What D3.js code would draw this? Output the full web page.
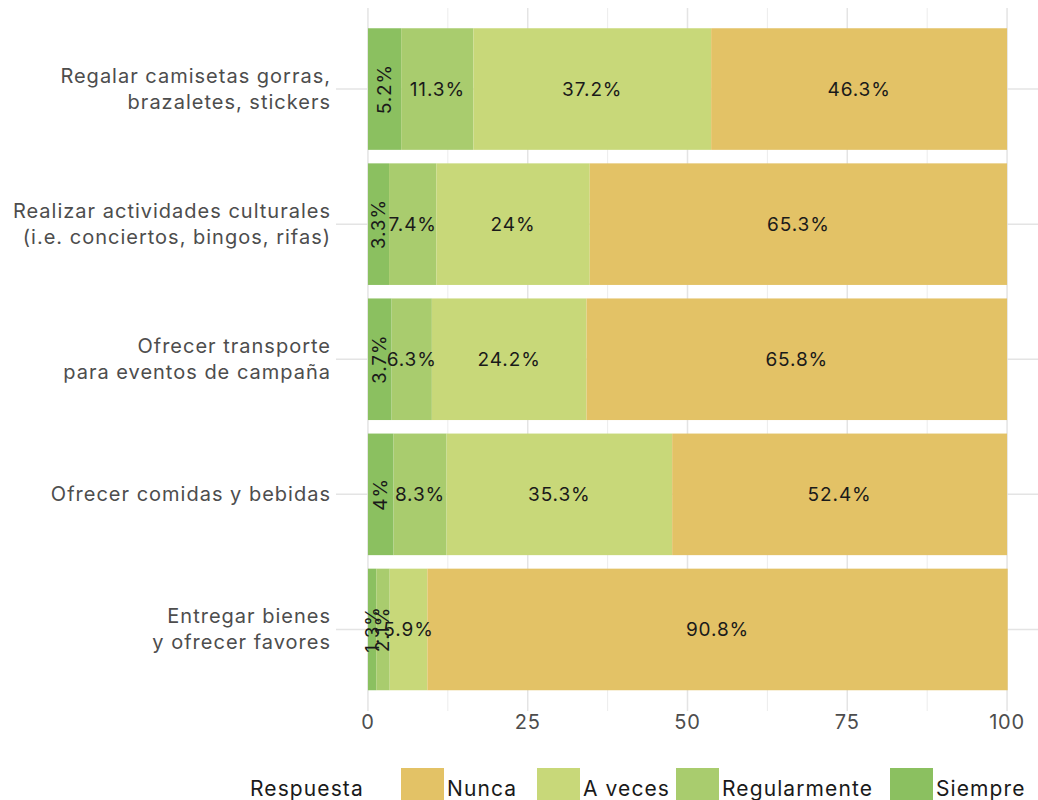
<!DOCTYPE html>
<html>
<head>
<meta charset="utf-8">
<script src="https://cdn.jsdelivr.net/npm/d3@7"></script>
<style>
  body { margin: 0; background: #fff; }
  text { font-family: "Inter", "Noto Sans", sans-serif; }
</style>
</head>
<body>
<div id="chart"></div>
<script>
// categories (top to bottom), label lines
var categories = [
  ["Regalar camisetas gorras,", "brazaletes, stickers"],
  ["Realizar actividades culturales", "(i.e. conciertos, bingos, rifas)"],
  ["Ofrecer transporte", "para eventos de campaña"],
  ["Ofrecer comidas y bebidas"],
  ["Entregar bienes", "y ofrecer favores"]
];
var siempre      = [5.2, 3.3, 3.7, 4, 1.3];
var regularmente = [11.3, 7.4, 6.3, 8.3, 2.1];
var aVeces       = [37.2, 24, 24.2, 35.3, 5.9];
var nunca        = [46.3, 65.3, 65.8, 52.4, 90.8];

var seriesNames = ["Siempre", "Regularmente", "A veces", "Nunca"];
var legendNames = ["Nunca", "A veces", "Regularmente", "Siempre"];
var xTicks = [0, 25, 50, 75, 100];

var colors = {
  "Nunca": "#e3c266",
  "A veces": "#c8d879",
  "Regularmente": "#a9cc6e",
  "Siempre": "#8bc060"
};

var width = 1038, height = 800;
var svg = d3.select("#chart").append("svg")
    .attr("width", width)
    .attr("height", height);

var x = d3.scaleLinear().domain([-5, 105]).range([336, 1039]);
var ids = categories.map(function(d, i) { return i; });
var y = d3.scaleBand().domain(ids).range([21.5, 697])
    .paddingInner(0.1).paddingOuter(0.05);

// build rows
var rows = ids.map(function(i) {
  return {
    id: i,
    "Siempre": siempre[i],
    "Regularmente": regularmente[i],
    "A veces": aVeces[i],
    "Nunca": nunca[i]
  };
});
var stacked = d3.stack().keys(seriesNames)(rows);

// grid
var grid = svg.append("g");
var minor = [12.5, 37.5, 62.5, 87.5];
grid.selectAll(".minor").data(minor).enter().append("line")
    .attr("x1", function(d) { return x(d); })
    .attr("x2", function(d) { return x(d); })
    .attr("y1", 8).attr("y2", 711)
    .style("stroke", "#ececec").style("stroke-width", 1);
grid.selectAll(".major").data(xTicks).enter().append("line")
    .attr("x1", function(d) { return x(d); })
    .attr("x2", function(d) { return x(d); })
    .attr("y1", 8).attr("y2", 711)
    .style("stroke", "#e4e4e4").style("stroke-width", 1.5);
grid.selectAll(".hgrid").data(ids).enter().append("line")
    .attr("x1", 336).attr("x2", 1039)
    .attr("y1", function(d) { return y(d) + y.bandwidth() / 2; })
    .attr("y2", function(d) { return y(d) + y.bandwidth() / 2; })
    .style("stroke", "#e4e4e4").style("stroke-width", 1.5);

// bars
var layers = svg.selectAll(".layer").data(stacked).enter().append("g")
    .style("fill", function(d) { return colors[d.key]; });

layers.selectAll("rect").data(function(d) { return d; }).enter().append("rect")
    .attr("x", function(d) { return x(d[0]); })
    .attr("width", function(d) { return x(d[1]) - x(d[0]); })
    .attr("y", function(d) { return y(d.data.id); })
    .attr("height", y.bandwidth());

// bar labels
stacked.forEach(function(layer) {
  layer.forEach(function(d) {
    var v = d[1] - d[0];
    var cx = x((d[0] + d[1]) / 2);
    var cy = y(d.data.id) + y.bandwidth() / 2;
    var label = d.data[layer.key] + "%";
    var t = svg.append("text")
        .text(label)
        .attr("text-anchor", "middle")
        .attr("dominant-baseline", "central")
        .style("font-size", "19px")
        .style("letter-spacing", "0.9px")
        .style("fill", "#1a1a1a");
    if (v < 5.5) {
      t.attr("transform", "translate(" + cx + "," + cy + ") rotate(-90)");
    } else {
      t.attr("x", cx).attr("y", cy);
    }
  });
});

// y axis labels
ids.forEach(function(i) {
  var lines = categories[i];
  var cy = y(i) + y.bandwidth() / 2;
  var lh = 26;
  var t = svg.append("text")
      .attr("text-anchor", "end")
      .style("font-size", "20px")
      .style("letter-spacing", "1px")
      .style("fill", "#4d4d4d");
  lines.forEach(function(s, k) {
    t.append("tspan")
        .attr("x", 331)
        .attr("y", cy + (k - (lines.length - 1) / 2) * lh)
        .attr("dy", "0.35em")
        .text(s);
  });
});

// x axis labels
svg.selectAll(".xlab").data(xTicks).enter().append("text")
    .attr("x", function(d) { return x(d); })
    .attr("y", 729)
    .attr("text-anchor", "middle")
    .style("font-size", "20px")
    .style("letter-spacing", "0.8px")
    .style("fill", "#4d4d4d")
    .text(function(d) { return d; });

// legend
var legend = svg.append("g");
legend.append("text")
    .attr("x", 250).attr("y", 796)
    .style("font-size", "21px")
    .style("letter-spacing", "1.1px")
    .style("fill", "#1a1a1a")
    .text("Respuesta");
var legendX = [401, 537, 676, 890];
legendNames.forEach(function(n, i) {
  legend.append("rect")
      .attr("x", legendX[i]).attr("y", 768)
      .attr("width", 43).attr("height", 43)
      .style("fill", colors[n]);
  legend.append("text")
      .attr("x", legendX[i] + 46).attr("y", 796)
      .style("font-size", "21px")
      .style("letter-spacing", "1.1px")
      .style("fill", "#1a1a1a")
      .text(n);
});
</script>
</body>
</html>
